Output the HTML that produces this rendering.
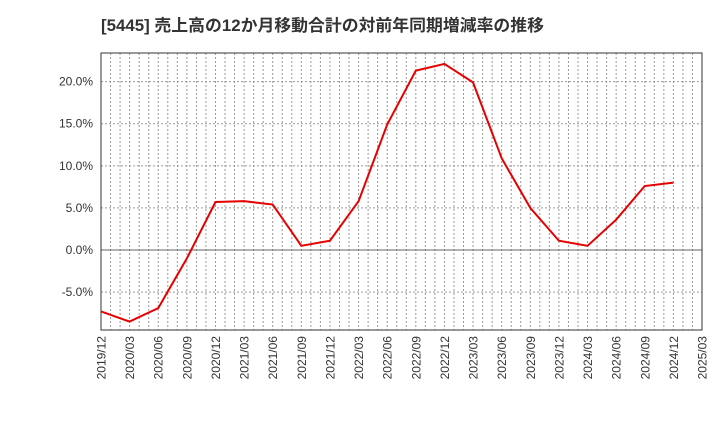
<!DOCTYPE html>
<html><head><meta charset="utf-8"><style>
body{margin:0;background:#fff;}
svg text{font-family:"Liberation Sans","Noto Sans CJK JP",sans-serif;}
</style></head><body>
<svg width="720" height="440">
<text x="101" y="31" font-size="16.5" font-weight="bold" fill="#333" textLength="443" lengthAdjust="spacingAndGlyphs">[5445]  売上高の12か月移動合計の対前年同期増減率の推移</text>
<g id="grid"></g><g id="axes"></g>
<polyline id="line" fill="none" stroke="#e60000" stroke-width="2"/>
</svg>
<script>
const categories=["2019/12","2020/03","2020/06","2020/09","2020/12","2021/03","2021/06","2021/09","2021/12","2022/03","2022/06","2022/09","2022/12","2023/03","2023/06","2023/09","2023/12","2024/03","2024/06","2024/09","2024/12","2025/03"];
const values=[-7.3,-8.5,-6.9,-1.0,5.7,5.8,5.4,0.5,1.1,5.8,14.9,21.3,22.1,19.9,10.9,5.0,1.1,0.5,3.6,7.6,8.0];
const yTicks=[-5,0,5,10,15,20];
const L=101,R=702,T=53,B=330;
const yMin=-9.5,yMax=23.4;
const x=i=>L+(R-L)*i/(categories.length-1);
const y=v=>B-(v-yMin)/(yMax-yMin)*(B-T);
const NS="http://www.w3.org/2000/svg";
const g=document.getElementById('grid'),ax=document.getElementById('axes');
function mk(tag,attrs,parent){const e=document.createElementNS(NS,tag);for(const k in attrs)e.setAttribute(k,attrs[k]);parent.appendChild(e);return e;}
for(let m=1;m<(categories.length-1)*3;m++){const xx=L+(R-L)*m/((categories.length-1)*3);
const l=mk('line',{x1:xx,x2:xx,y1:T,y2:B,stroke:'#999','stroke-dasharray':'2,2'},g);

}
yTicks.forEach(v=>{const yy=y(v);
const l=mk('line',{x1:L,x2:R,y1:yy,y2:yy,stroke:v===0?'#666':'#999','stroke-dasharray':v===0?'':'2,2'},g);


const t=mk('text',{x:L-8,y:yy+4,'text-anchor':'end','font-size':'12',fill:'#333'},ax);t.textContent=v.toFixed(1)+'%';

});
const r=mk('rect',{x:L,y:T,width:R-L,height:B-T,fill:'none',stroke:'#333'},ax);


categories.forEach((c,i)=>{const xx=x(i);
const t=mk('text',{x:0,y:0,'text-anchor':'end','font-size':'12',fill:'#333',transform:`translate(${xx+4.5},${B+6}) rotate(-90)`},ax);t.textContent=c;

});
document.getElementById('line').setAttribute('points',values.map((v,i)=>x(i)+','+y(v)).join(' '));
</script>
</body></html>
